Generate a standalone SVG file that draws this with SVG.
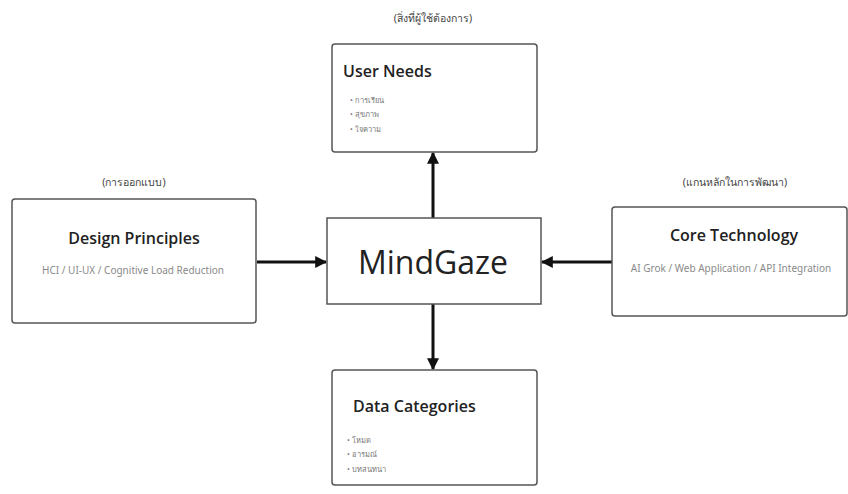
<svg xmlns="http://www.w3.org/2000/svg" width="848" height="494" viewBox="0 0 848 494">
<style>
.box{fill:#fff;stroke:#555;stroke-width:1.5}
.title{font-family:"Open Sans","Noto Sans",sans-serif;fill:#222;font-weight:600}
.cap{font-family:"Noto Sans","Liberation Sans",sans-serif;font-size:10.5px;fill:#444;text-anchor:middle}
.sub{font-family:"Noto Sans","Liberation Sans",sans-serif;font-size:10px;fill:#8a8a8a;text-anchor:middle}
.bul{font-family:"Noto Sans","Liberation Sans",sans-serif;font-size:7.5px;fill:#777}
.conn{stroke:#111;stroke-width:3;fill:none;marker-end:url(#ah)}
</style>
<defs>
<marker id="ah" viewBox="0 0 10 10" refX="9" refY="5" markerWidth="4" markerHeight="4" orient="auto" markerUnits="strokeWidth">
<path d="M0,0 L10,5 L0,10 Z" fill="#111"/>
</marker>
</defs>
<rect width="848" height="494" fill="#fff"/>
<g id="connectors">
<line class="conn" x1="433" y1="218" x2="433" y2="153"/>
<line class="conn" x1="433" y1="304" x2="433" y2="369"/>
<line class="conn" x1="257" y1="262" x2="326" y2="262"/>
<line class="conn" x1="612" y1="262" x2="542" y2="262"/>
</g>
<g id="center">
<rect class="box" x="327" y="218" width="214" height="86"/>
<text x="433" y="274" text-anchor="middle" font-family="Open Sans, Noto Sans, sans-serif" font-size="32" fill="#222">MindGaze</text>
</g>
<g id="user-needs">
<text class="cap" x="433" y="22">(สิ่งที่ผู้ใช้ต้องการ)</text>
<rect class="box" x="332" y="44" width="205" height="108" rx="3"/>
<text class="title" x="343" y="77" font-size="16">User Needs</text>
<text class="bul" x="350" y="103">• การเรียน</text>
<text class="bul" x="350" y="117">• สุขภาพ</text>
<text class="bul" x="350" y="132">• ใจความ</text>
</g>
<g id="design">
<text class="cap" x="134" y="186">(การออกแบบ)</text>
<rect class="box" x="12" y="199" width="244" height="124" rx="3"/>
<text class="title" x="134" y="244" font-size="16" text-anchor="middle">Design Principles</text>
<text class="sub" x="133" y="274">HCI / UI-UX / Cognitive Load Reduction</text>
</g>
<g id="core">
<text class="cap" x="735" y="186">(แกนหลักในการพัฒนา)</text>
<rect class="box" x="612" y="207" width="235" height="109" rx="3"/>
<text class="title" x="734" y="241" font-size="16" text-anchor="middle">Core Technology</text>
<text class="sub" x="731" y="272">AI Grok / Web Application / API Integration</text>
</g>
<g id="data">
<rect class="box" x="332" y="370" width="205" height="115" rx="3"/>
<text class="title" x="353" y="412" font-size="16">Data Categories</text>
<text class="bul" x="347" y="443">• โหมด</text>
<text class="bul" x="347" y="457">• อารมณ์</text>
<text class="bul" x="347" y="472">• บทสนทนา</text>
</g>
</svg>
